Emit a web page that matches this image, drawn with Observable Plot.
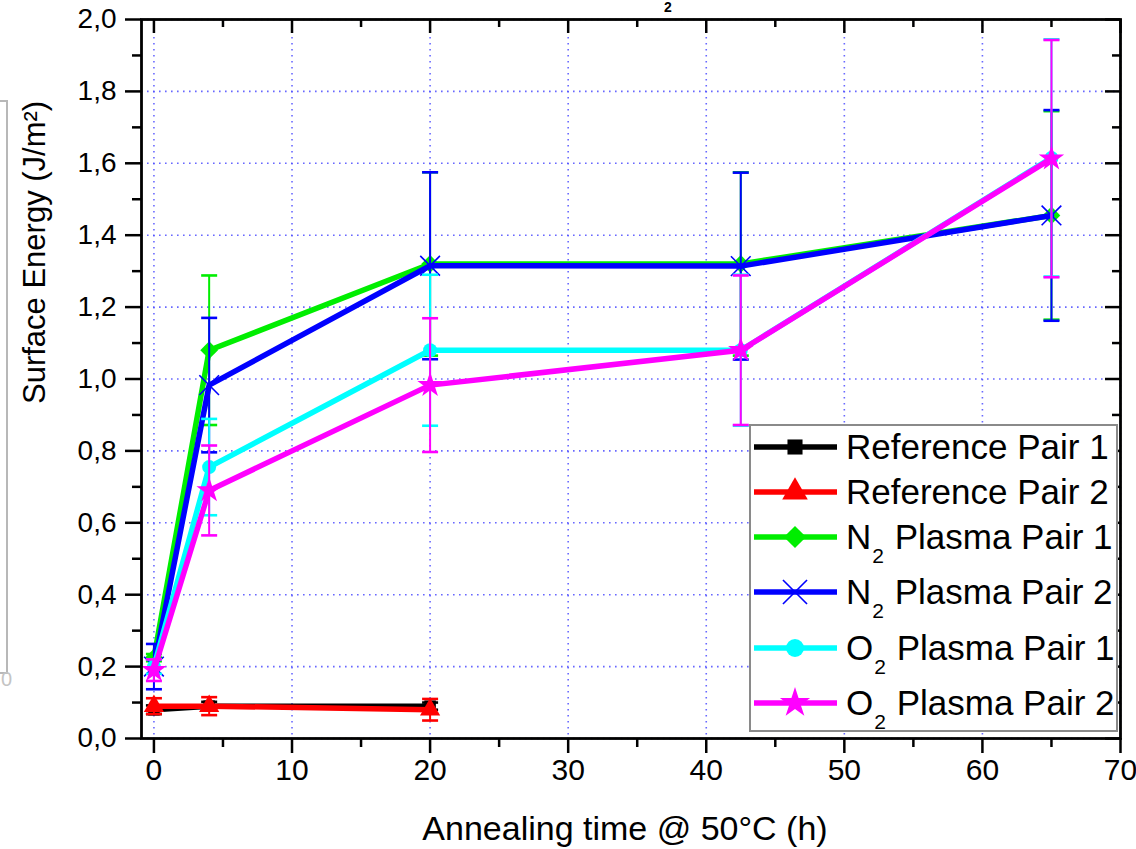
<!DOCTYPE html>
<html>
<head>
<meta charset="utf-8">
<script src="https://cdn.jsdelivr.net/npm/d3@7"></script>
<script src="https://cdn.jsdelivr.net/npm/@observablehq/plot@0.6"></script>
<style>
  body { margin: 0; background: #fff; }
  #wrap { position: relative; width: 1136px; height: 849px; overflow: hidden; font-family: "Liberation Sans", Arial, sans-serif; background: #fff; }
  #chart { position: absolute; left: 0; top: 0; }
  #legend { position: absolute; left: 749px; top: 424px; width: 369px; height: 308px; box-sizing: border-box; border: 2px solid #8a8a8a; background: #fff; }
  .row { position: absolute; left: 0; height: 40px; display: flex; align-items: center; }
  .row svg { margin-left: 1px; }
  .row span.lab { font-size: 35px; margin-left: 8px; white-space: nowrap; color: #000; line-height: 40px; }
  .row sub { font-size: 21px; vertical-align: -14px; line-height: 0; margin-left: 1px; margin-right: 1px; }
  #edge { position: absolute; left: -12px; top: 100px; width: 16px; height: 570px; border: 2px solid #b8b8b8; }
  #edgeText { position: absolute; left: 1px; top: 668px; font-size: 20px; line-height: 22px; color: #c4c4c4; }
  #titleFrag { position: absolute; left: 664px; top: 0px; font-size: 14px; line-height: 15px; font-weight: bold; color: #000; }
</style>
</head>
<body>
<div id="wrap">
  <div id="edge"></div>
  <div id="edgeText">0</div>
  <div id="chart"></div>
  <div id="titleFrag">2</div>
  <div id="legend"></div>
</div>
<script>
// ---------- data ----------
const seriesNames = ["Reference Pair 1", "Reference Pair 2", "N2 Plasma Pair 1", "N2 Plasma Pair 2", "O2 Plasma Pair 1", "O2 Plasma Pair 2"];
const seriesColors = ["#000000", "#ff0000", "#00ee00", "#0000ff", "#00ffff", "#ff00ff"];
const seriesSymbols = ["square", "triangle", "diamond2", "times", "circle", "star"];

const timesRef = [0, 4, 20];
const timesPlasma = [0, 4, 20, 42.5, 65];

const ref1Values = [0.08, 0.09, 0.09];
const ref1Errors = [0.012, 0.012, 0.01];
const ref2Values = [0.09, 0.09, 0.08];
const ref2Errors = [0.022, 0.025, 0.03];
const n2p1Values = [0.225, 1.08, 1.32, 1.32, 1.455];
const n2p1Errors = [0.01, 0.208, 0.255, 0.255, 0.29];
const n2p2Values = [0.2, 0.983, 1.315, 1.314, 1.455];
const n2p2Errors = [0.063, 0.187, 0.26, 0.26, 0.293];
const o2p1Values = [0.2, 0.755, 1.08, 1.08, 1.615];
const o2p1Errors = [0.02, 0.134, 0.21, 0.21, 0.33];
const o2p2Values = [0.19, 0.69, 0.983, 1.08, 1.613];
const o2p2Errors = [0.03, 0.125, 0.186, 0.208, 0.33];

const xMajor = [0, 10, 20, 30, 40, 50, 60, 70];
const xMinor = [5, 15, 25, 35, 45, 55, 65];
const yMajor = [0, 0.2, 0.4, 0.6, 0.8, 1.0, 1.2, 1.4, 1.6, 1.8, 2.0];
const yMinor = [0.1, 0.3, 0.5, 0.7, 0.9, 1.1, 1.3, 1.5, 1.7, 1.9];

const xLabel = "Annealing time @ 50°C (h)";
const yLabel = "Surface Energy (J/m²)";

// ---------- build rows ----------
const seriesDefs = [
  [timesRef, ref1Values, ref1Errors],
  [timesRef, ref2Values, ref2Errors],
  [timesPlasma, n2p1Values, n2p1Errors],
  [timesPlasma, n2p2Values, n2p2Errors],
  [timesPlasma, o2p1Values, o2p1Errors],
  [timesPlasma, o2p2Values, o2p2Errors]
];
const seriesRows = seriesDefs.map(([ts, vs, es], i) =>
  ts.map((t, j) => ({series: seriesNames[i], t, v: vs[j], e: es[j]})));

const capSymbol = {
  draw(ctx, size) { const w = Math.sqrt(size / Math.PI); ctx.moveTo(-w, 0); ctx.lineTo(w, 0); }
};
const markerR = [6.5, 7.5, 8, 9, 7, 8];

const gridStyle = {stroke: "#4d4dff", strokeOpacity: 0.85, strokeWidth: 1.6, strokeDasharray: "1.6,4.4"};
const fmtY = d => d.toFixed(1).replace(".", ",");
const blank = () => "";

const marks = [
  Plot.gridX(xMajor, gridStyle),
  Plot.gridY(yMajor, gridStyle)
];
seriesRows.forEach((rows, i) => {
  const c = seriesColors[i];
  marks.push(Plot.line(rows, {x: "t", y: "v", stroke: c, strokeWidth: 5.5, strokeLinejoin: "round"}));
  marks.push(Plot.ruleX(rows, {x: "t", y1: d => d.v - d.e, y2: d => d.v + d.e, stroke: c, strokeWidth: 2}));
  marks.push(Plot.dot(rows, {x: "t", y: d => d.v + d.e, symbol: capSymbol, r: 8, fill: "none", stroke: c, strokeWidth: 2.6}));
  marks.push(Plot.dot(rows, {x: "t", y: d => d.v - d.e, symbol: capSymbol, r: 8, fill: "none", stroke: c, strokeWidth: 2.6}));
  const sym = seriesSymbols[i];
  if (sym === "times") {
    marks.push(Plot.dot(rows, {x: "t", y: "v", symbol: sym, r: markerR[i], fill: "none", stroke: c, strokeWidth: 1.6}));
  } else {
    marks.push(Plot.dot(rows, {x: "t", y: "v", symbol: sym, r: markerR[i], fill: c, stroke: "none"}));
  }
});

marks.push(
  // bottom axis
  Plot.axisX(xMajor, {anchor: "bottom", tickSize: 15, tickPadding: 5, strokeWidth: 2.5, fontSize: 30, label: null}),
  Plot.axisX(xMinor, {anchor: "bottom", tickSize: 9, strokeWidth: 2.5, tickFormat: blank, label: null}),
  // top (inward) ticks
  Plot.axisX(xMajor, {anchor: "bottom", frameAnchor: "top", tickSize: 14, strokeWidth: 2.5, tickFormat: blank, label: null}),
  Plot.axisX(xMinor, {anchor: "bottom", frameAnchor: "top", tickSize: 8, strokeWidth: 2.5, tickFormat: blank, label: null}),
  // left axis
  Plot.axisY(yMajor, {anchor: "left", tickSize: 16, tickPadding: 9, strokeWidth: 2.5, fontSize: 28, tickFormat: fmtY, label: null}),
  Plot.axisY(yMinor, {anchor: "left", tickSize: 9, strokeWidth: 2.5, tickFormat: blank, label: null}),
  // right (inward) ticks
  Plot.axisY(yMajor, {anchor: "left", frameAnchor: "right", tickSize: 15, strokeWidth: 2.5, tickFormat: blank, label: null}),
  Plot.axisY(yMinor, {anchor: "left", frameAnchor: "right", tickSize: 8, strokeWidth: 2.5, tickFormat: blank, label: null}),
  Plot.frame({stroke: "#000", strokeWidth: 2.8}),
  Plot.text([yLabel], {frameAnchor: "left", rotate: -90, dx: -106, dy: 25, fontSize: 31, fill: "#000"}),
  Plot.text([xLabel], {frameAnchor: "bottom", dx: -6, dy: 101, fontSize: 34, fill: "#000"})
);

const chart = Plot.plot({
  width: 1136,
  height: 849,
  marginLeft: 141,
  marginRight: 16,
  marginTop: 19,
  marginBottom: 111,
  style: {fontFamily: "Liberation Sans, Arial, sans-serif", background: "transparent", color: "#000", overflow: "visible"},
  x: {domain: [-0.9, 70]},
  y: {domain: [0, 2.0]},
  marks
});
document.getElementById("chart").appendChild(chart);

// ---------- legend ----------
const legendCenters = [21, 66, 111, 166, 222, 277];
const legend = document.getElementById("legend");
const symbolTypes = {square: d3.symbolSquare, triangle: d3.symbolTriangle, diamond2: d3.symbolDiamond2, times: d3.symbolTimes, circle: d3.symbolCircle, star: d3.symbolStar};
const legendR = [8.5, 9.5, 10, 11, 9, 9.5];
seriesNames.forEach((name, i) => {
  const row = document.createElement("div");
  row.className = "row";
  row.style.top = (legendCenters[i] - 20) + "px";
  const svg = d3.create("svg").attr("width", 86).attr("height", 40);
  svg.append("line").attr("x1", 2).attr("x2", 85).attr("y1", 20).attr("y2", 20)
    .attr("stroke", seriesColors[i]).attr("stroke-width", 5.5);
  const r = legendR[i];
  const path = d3.symbol(symbolTypes[seriesSymbols[i]], Math.PI * r * r)();
  const p = svg.append("path").attr("d", path).attr("transform", "translate(43,20)");
  if (seriesSymbols[i] === "times") p.attr("fill", "none").attr("stroke", seriesColors[i]).attr("stroke-width", 1.6);
  else p.attr("fill", seriesColors[i]);
  row.appendChild(svg.node());
  const lab = document.createElement("span");
  lab.className = "lab";
  const m = name.match(/^([NO])2 (.*)$/);
  if (m) {
    lab.append(m[1]);
    const sub = document.createElement("sub");
    sub.textContent = "2";
    lab.append(sub);
    lab.append(" " + m[2]);
  } else {
    lab.textContent = name;
  }
  row.appendChild(lab);
  legend.appendChild(row);
});
</script>
</body>
</html>
